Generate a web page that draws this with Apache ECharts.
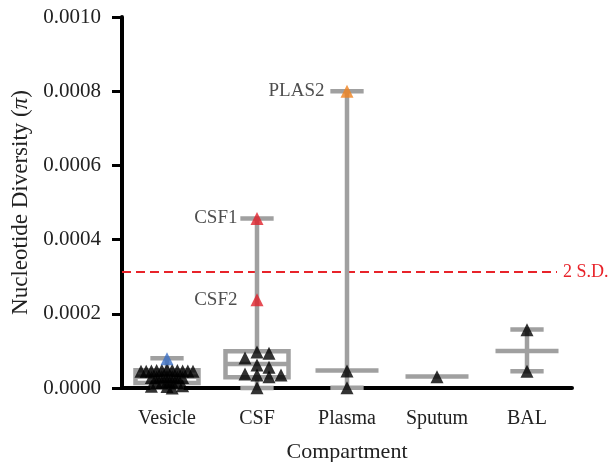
<!DOCTYPE html>
<html><head><meta charset="utf-8">
<script src="https://cdn.jsdelivr.net/npm/echarts/dist/echarts.min.js"></script>
<style>html,body{margin:0;padding:0;background:#fff}#c{width:609px;height:462px}</style>
</head><body><div id="c"></div>
<script>
// ---- data ----
const categories = ['Vesicle', 'CSF', 'Plasma', 'Sputum', 'BAL'];
const vesicleValues = [0.000049, 0.000048, 0.000048, 0.000047, 0.000047, 0.000046, 0.000046, 0.000046,
  0.000045, 0.000045, 0.000045, 0.000031, 0.000030, 0.000030, 0.000029, 0.000029, 0.000028, 0.000028,
  0.000017, 0.000016, 0.000015, 0.000015, 0.000014, 0.000006, 0.000005, 0.000004, 0.000000];
const csfValues = [0.000097, 0.000094, 0.000081, 0.000062, 0.000056, 0.000038, 0.000035, 0.000035, 0.000030, 0.0000005];
const plasmaValues = [0.000046, 0.0000005];
const sputumValues = [0.000030];
const balValues = [0.000157, 0.000045];
const vesicleBlueValues = [0.000079];
const csfRedValues = [0.000457, 0.000238];
const csfRedLabels = ['CSF1', 'CSF2'];
const plasmaOrangeValues = [0.000800];
const plasmaOrangeLabels = ['PLAS2'];
// summary glyphs (min, lower quartile, median, upper quartile, max); null = not drawn
const statMin    = [0.0000005, 0.0000000, 0.0000005, null, 0.000045];
const statQ1     = [0.0000135, 0.0000290, null, null, null];
const statMedian = [0.0000300, 0.0000650, 0.0000475, 0.0000310, 0.0001000];
const statQ3     = [0.0000480, 0.0000990, null, null, null];
const statMax    = [0.0000800, 0.0004570, 0.0008000, null, 0.000158];
const sdValue = 0.000313;
const sdLabel = '2 S.D.';
const yMin = 0, yMax = 0.0010, yStep = 0.0002;

// ---- chart ----
const GREY = '#a0a0a0';
const FONT = 'Liberation Serif';
const TXT = '#222';
const chart = echarts.init(document.getElementById('c'), null, {renderer: 'canvas'});

function glyph(params, api) {
  const i = api.value(0);
  const band = api.size([1, 0])[0];
  const x = api.coord([i, 0])[0];
  const py = v => api.coord([i, v])[1];
  const ok = v => v != null && !isNaN(v);
  const mn = api.value(1), q1 = api.value(2), md = api.value(3), q3 = api.value(4), mx = api.value(5);
  const st = {stroke: GREY, lineWidth: 4.5, fill: null};
  const ch = [];
  const line = (x1, y1, x2, y2) => ch.push({type: 'line', shape: {x1, y1, x2, y2}, style: st});
  const capW = band * 0.37, medW = band * 0.70, boxW = band * 0.70;
  if (ok(q1) && ok(q3)) {
    if (ok(mx)) line(x, py(q3), x, py(mx));
    if (ok(mn)) line(x, py(mn), x, py(q1));
    ch.push({type: 'rect', shape: {x: x - boxW / 2, y: py(q3), width: boxW, height: py(q1) - py(q3)}, style: st});
  } else if (ok(mn) && ok(mx)) {
    line(x, py(mn), x, py(mx));
  }
  if (ok(mx)) line(x - capW / 2, py(mx), x + capW / 2, py(mx));
  if (ok(mn)) line(x - capW / 2, py(mn), x + capW / 2, py(mn));
  if (ok(md)) line(x - medW / 2, py(md), x + medW / 2, py(md));
  return {type: 'group', children: ch};
}

const groups = [vesicleValues, csfValues, plasmaValues, sputumValues, balValues];
const swarmSpacing = [[5.2, 4.5], [12, 9], [12, 9], [12, 9], [12, 9]];

function blackData(offsets) {
  const out = [];
  groups.forEach((vals, ci) => vals.forEach((v, k) => {
    out.push({value: [ci, v], symbolOffset: [offsets ? offsets[ci][k] : 0, 0]});
  }));
  return out;
}

const option = {
  animation: false,
  textStyle: {fontFamily: FONT},
  grid: [
    {left: 122, right: 37, top: 17, bottom: 74, containLabel: false, outerBoundsMode: 'none'},
    {left: 122, right: 52, top: 17, bottom: 74, containLabel: false, outerBoundsMode: 'none'}
  ],
  xAxis: [
    {type: 'category', data: categories, gridIndex: 0,
     axisLine: {lineStyle: {color: '#000', width: 4}},
     axisTick: {alignWithLabel: true, length: 8, lineStyle: {color: '#000', width: 3}},
     axisLabel: {fontSize: 20, color: TXT, margin: 21, fontFamily: FONT},
     name: 'Compartment', nameLocation: 'middle', nameGap: 53,
     nameTextStyle: {fontSize: 22, color: TXT, fontFamily: FONT}},
    {type: 'value', gridIndex: 1, min: 0, max: 1, show: false}
  ],
  yAxis: [
    {type: 'value', gridIndex: 0, min: yMin, max: yMax, interval: yStep,
     axisLine: {show: true, lineStyle: {color: '#000', width: 4}},
     axisTick: {show: true, length: 10, lineStyle: {color: '#000', width: 3}},
     splitLine: {show: false},
     axisLabel: {fontSize: 21, color: TXT, margin: 21, fontFamily: FONT, formatter: v => v.toFixed(4)},
     name: 'Nucleotide Diversity ({i|π})', nameLocation: 'middle', nameGap: 89,
     nameTextStyle: {fontSize: 23, color: TXT, fontFamily: FONT,
       rich: {i: {fontStyle: 'italic', fontSize: 23, fontFamily: FONT, color: TXT}}}},
    {type: 'value', gridIndex: 1, min: yMin, max: yMax, show: false}
  ],
  series: [
    {type: 'custom', xAxisIndex: 0, yAxisIndex: 0, renderItem: glyph, z: 2,
     data: categories.map((c, i) => [i, statMin[i], statQ1[i], statMedian[i], statQ3[i], statMax[i]])},
    {type: 'line', xAxisIndex: 1, yAxisIndex: 1, symbol: 'none', silent: true, z: 1,
     data: [[0, sdValue], [1, sdValue]],
     lineStyle: {color: '#e8232a', width: 2, type: [9, 5]},
     endLabel: {show: true, formatter: sdLabel, color: '#e8232a', fontSize: 18, fontFamily: FONT, distance: 6}},
    {type: 'scatter', name: 'black', symbol: 'triangle', symbolSize: 13, z: 5,
     itemStyle: {color: '#000'}, data: blackData(null)},
    {type: 'scatter', symbol: 'triangle', symbolSize: 13, z: 6, itemStyle: {color: '#3b6fc4'},
     data: vesicleBlueValues.map(v => [0, v])},
    {type: 'scatter', symbol: 'triangle', symbolSize: 13, z: 6, itemStyle: {color: '#e0202b'},
     label: {show: true, position: 'left', distance: 13, formatter: p => csfRedLabels[p.dataIndex],
       color: TXT, fontSize: 19, fontFamily: FONT},
     data: csfRedValues.map(v => [1, v])},
    {type: 'scatter', symbol: 'triangle', symbolSize: 13, z: 6, itemStyle: {color: '#f0821e'},
     label: {show: true, position: 'left', distance: 16, formatter: p => plasmaOrangeLabels[p.dataIndex],
       color: TXT, fontSize: 19, fontFamily: FONT},
     data: plasmaOrangeValues.map(v => [2, v])}
  ]
};
chart.setOption(option);

// beeswarm layout of the black points (computed from values in pixel space)
function swarm(values, wx, wy) {
  const step = wx / 2;
  const toPx = v => chart.convertToPixel({yAxisIndex: 0}, v);
  const order = values.map((v, i) => i).sort((a, b) => values[b] - values[a]);
  const placed = [], offs = new Array(values.length).fill(0);
  for (const i of order) {
    const y = toPx(values[i]);
    for (let k = 0; k < 80; k++) {
      const cands = k === 0 ? [0] : [k * step, -k * step];
      let found = null;
      for (const dx of cands) {
        if (placed.every(p => Math.abs(p.x - dx) >= wx - 1e-6 || Math.abs(p.y - y) >= wy)) { found = dx; break; }
      }
      if (found !== null) { offs[i] = found; placed.push({x: found, y}); break; }
    }
  }
  return offs;
}
const offsets = groups.map((vals, i) => swarm(vals, swarmSpacing[i][0], swarmSpacing[i][1]));
chart.setOption({series: [{}, {}, {data: blackData(offsets)}]});
</script></body></html>
